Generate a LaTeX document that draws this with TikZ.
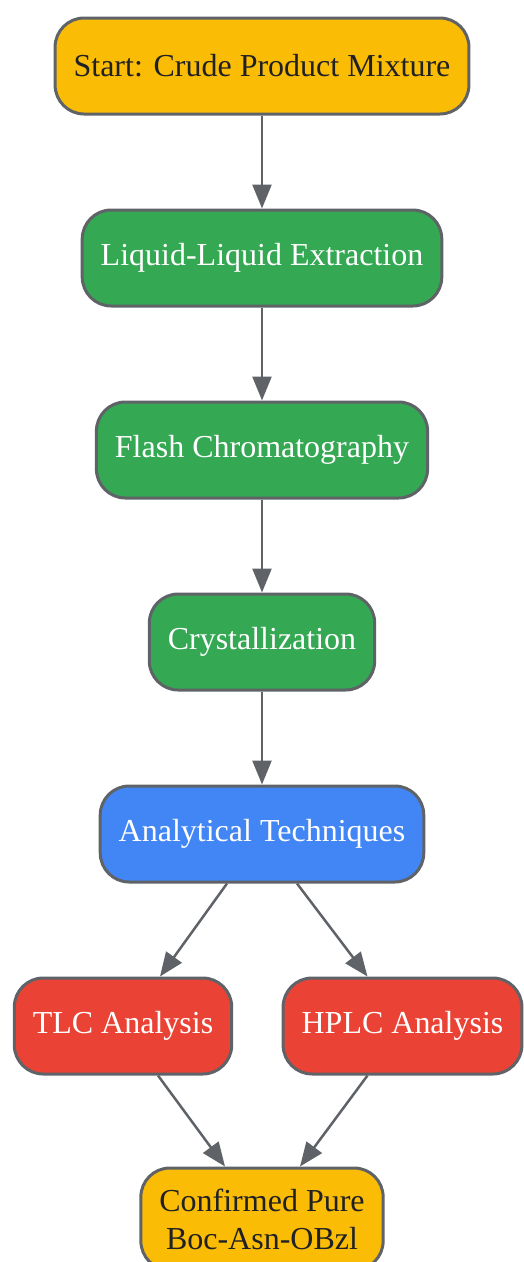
\documentclass[tikz,border=0pt]{standalone}
\usepackage{fontspec}
\setmainfont{Liberation Serif}
\usetikzlibrary{arrows.meta}
\definecolor{yel}{HTML}{FBBC05}
\definecolor{grn}{HTML}{34A853}
\definecolor{blu}{HTML}{4285F4}
\definecolor{rd}{HTML}{EA4335}
\definecolor{edge}{HTML}{5F6368}
\definecolor{dark}{HTML}{202124}
\tikzset{
  box/.style={draw=edge, line width=3pt, rounded corners=29pt, minimum height=96pt,
    inner xsep=18.5pt, font=\fontsize{32}{38}\selectfont, align=center},
  ybox/.style={box, fill=yel, text=dark},
  gbox/.style={box, fill=grn, text=white},
  bbox/.style={box, fill=blu, text=white},
  rbox/.style={box, fill=rd, text=white},
  conn/.style={draw=edge, line width=2.5pt, -{Triangle[length=24pt,width=19pt]}}
}
\begin{document}
\begin{tikzpicture}[x=1pt,y=-1pt]
\useasboundingbox (0,0) rectangle (524,1262);
\node[ybox] (start) at (262,66) {Start: Crude Product Mixture};
\node[gbox] (lle) at (262,258) {Liquid-Liquid Extraction};
\node[gbox] (flash) at (262,450) {Flash Chromatography};
\node[gbox] (cryst) at (262,642) {Crystallization};
\node[bbox] (ana) at (262,834) {Analytical Techniques};
\node[rbox] (tlc) at (123,1026) {TLC Analysis};
\node[rbox] (hplc) at (402.5,1026) {HPLC Analysis};
\node[ybox, minimum height=102pt] (conf) at (262,1219) {Confirmed Pure\\Boc-Asn-OBzl};
\draw[conn] (start.south) -- (lle.north);
\draw[conn] (lle.south) -- (flash.north);
\draw[conn] (flash.south) -- (cryst.north);
\draw[conn] (cryst.south) -- (ana.north);
\draw[conn] ([xshift=-35pt]ana.south) -- ([xshift=37pt]tlc.north);
\draw[conn] ([xshift=35pt]ana.south) -- ([xshift=-35pt]hplc.north);
\draw[conn] ([xshift=35pt]tlc.south) -- ([xshift=-37pt]conf.north);
\draw[conn] ([xshift=-35pt]hplc.south) -- ([xshift=38pt]conf.north);
\end{tikzpicture}
\end{document}
